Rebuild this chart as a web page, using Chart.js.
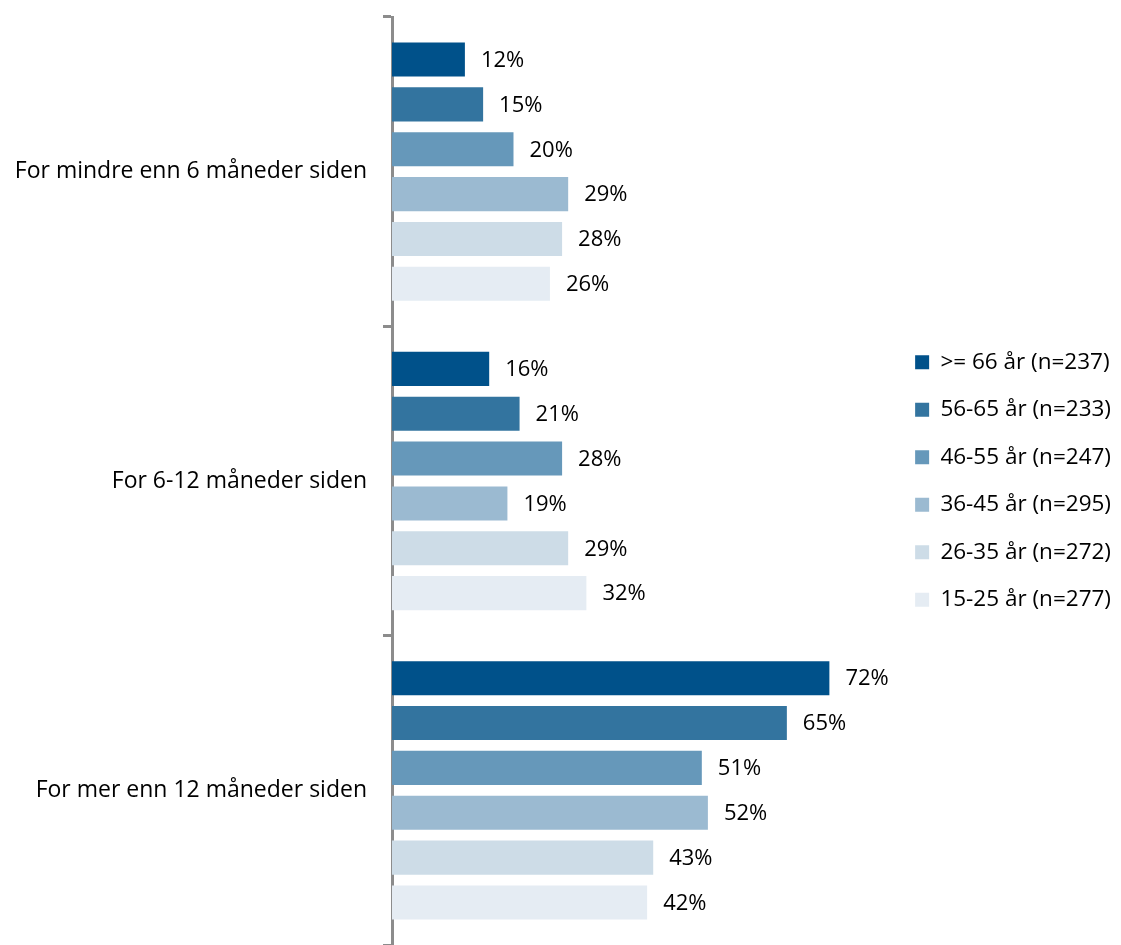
<!DOCTYPE html>
<html lang="no">
<head>
  <meta charset="UTF-8">
  <title>Aldersgrupper</title>
  <script src="https://cdn.jsdelivr.net/npm/chart.js"></script>
  <style>
    html, body { margin: 0; padding: 0; background: #fff; }
    .wrap { width: 1121px; height: 945px; }
  </style>
</head>
<body>
  <div class="wrap"><canvas id="chart"></canvas></div>
  <script>
    const categories = ['For mindre enn 6 måneder siden', 'For 6-12 måneder siden', 'For mer enn 12 måneder siden'];
    const seriesNames = ['>= 66 år (n=237)', '56-65 år (n=233)', '46-55 år (n=247)', '36-45 år (n=295)', '26-35 år (n=272)', '15-25 år (n=277)'];
    const age66 = [12, 16, 72];
    const age56 = [15, 21, 65];
    const age46 = [20, 28, 51];
    const age36 = [29, 19, 52];
    const age26 = [28, 29, 43];
    const age15 = [26, 32, 42];
    const colors = ['#00518a', '#33749f', '#6698ba', '#9bbad1', '#cddce7', '#e5ecf3'];

    const seriesData = [age66, age56, age46, age36, age26, age15];
    const font = { family: '"Open Sans", Lato, sans-serif', size: 23 };

    const valueLabels = {
      id: 'valueLabels',
      afterDatasetsDraw(chart) {
        const ctx = chart.ctx;
        ctx.save();
        ctx.font = '22px ' + font.family;
        ctx.fillStyle = '#000';
        ctx.textBaseline = 'middle';
        chart.data.datasets.forEach((ds, i) => {
          chart.getDatasetMeta(i).data.forEach((bar, j) => {
            ctx.fillText(ds.data[j] + '%', bar.x + 16, bar.y + 1);
          });
        });
        ctx.restore();
      }
    };

    new Chart(document.getElementById('chart'), {
      type: 'bar',
      data: {
        labels: categories,
        datasets: seriesData.map((d, i) => ({
          label: seriesNames[i],
          data: d,
          backgroundColor: colors[i],
          categoryPercentage: 0.87,
          barPercentage: 0.76
        }))
      },
      options: {
        indexAxis: 'y',
        responsive: true,
        maintainAspectRatio: false,
        animation: false,
        layout: { padding: { top: 17, right: 0, left: 0, bottom: 0 } },
        scales: {
          x: { display: false, min: 0, max: 82 },
          y: {
            border: { color: '#8c8c8c', width: 3 },
            grid: { drawOnChartArea: false, color: '#8c8c8c', lineWidth: 3, tickLength: 9, offset: true },
            ticks: { color: '#000', font: font, padding: 16 },
            afterFit(scale) {
              scale.width = 392;
              scale.paddingTop = 0;
              scale.paddingBottom = 0;
            }
          }
        },
        plugins: {
          legend: {
            position: 'right',
            align: 'center',
            labels: { color: '#000', font: { family: font.family, size: 22.5 }, boxWidth: 14, boxHeight: 14, padding: 25 }
          },
          tooltip: { enabled: false }
        }
      },
      plugins: [valueLabels]
    });
  </script>
</body>
</html>
